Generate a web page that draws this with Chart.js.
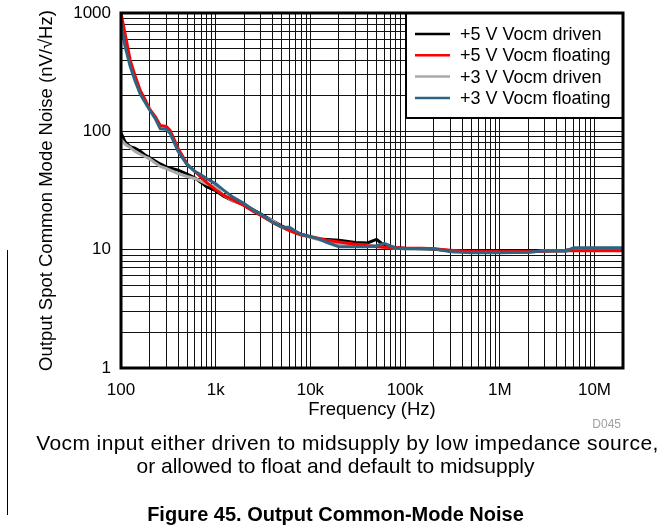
<!DOCTYPE html>
<html>
<head>
<meta charset="utf-8">
<script src="https://cdn.jsdelivr.net/npm/chart.js@4.4.0/dist/chart.umd.min.js"></script>
<style>
  html, body { margin: 0; padding: 0; background: #fff; }
  #wrap { position: relative; width: 671px; height: 529px; overflow: hidden; font-family: 'Liberation Sans', Arial, sans-serif; }
  #chart { position: absolute; left: 0; top: 0; }
  .cap { position: absolute; left: 0; width: 671px; text-align: center; color: #000; white-space: nowrap; }
  #note1 { top: 431px; left: 12px; font-size: 21px; line-height: 24px; letter-spacing: 0.4px; }
  #note2 { top: 454px; font-size: 21px; line-height: 24px; }
  #figtitle { top: 502px; font-size: 20px; line-height: 24px; font-weight: bold; }
  #code { position: absolute; right: 50px; top: 417px; font-size: 12px; line-height: 14px; color: #a0a0a0; }
  #edge { position: absolute; left: 7px; top: 250px; width: 1px; height: 265px; background: #000; }
</style>
</head>
<body>
<div id="wrap">
  <canvas id="chart" width="671" height="529"></canvas>
  <div id="edge"></div>
  <div id="code">D045</div>
  <div class="cap" id="note1">Vocm input either driven to midsupply by low impedance source,</div>
  <div class="cap" id="note2">or allowed to float and default to midsupply</div>
  <div class="cap" id="figtitle">Figure 45. Output Common-Mode Noise</div>
</div>
<script>
// frecuencias (Hz) y ruido (nV/rtHz)
const freq = [100, 110, 125, 140, 160, 180, 200, 230, 260, 300, 330, 400, 500, 600, 700, 800,
  1000, 1200, 1500, 2000, 2500, 3000, 4000, 5000, 6000, 7000, 8000, 10000, 12000, 15000, 20000,
  30000, 40000, 50000, 60000, 80000, 100000, 150000, 200000, 300000, 500000, 1000000, 2000000,
  3000000, 5000000, 6000000, 10000000, 20000000];

const v5Driven = [97, 82, 74, 72, 68, 63, 60, 56, 53, 50, 49, 47, 43.5, 40.5, 37, 34,
  31.5, 28.5, 26, 24, 21.7, 20, 17.5, 15.8, 14.8, 14, 13.5, 12.8, 12.3, 12.2, 12,
  11.5, 11.4, 12.2, 10.9, 10.4, 10.3, 10.2, 10.1, 9.8, 9.6, 9.6, 9.6,
  9.8, 9.9, 10.2, 10.2, 10.2];

const v5Floating = [1000, 680, 400, 300, 220, 185, 155, 133, 112, 110, 102, 72, 53, 46, 41, 37,
  32, 29, 26.5, 23.5, 21, 19.5, 17, 15.5, 14.5, 13.8, 13.3, 12.9, 12.5, 12, 11.6,
  11.1, 10.8, 10.6, 10.5, 10.4, 10.3, 10.3, 10.2, 9.9, 9.6, 9.6, 9.6,
  9.7, 9.8, 9.8, 9.8, 9.8];

const v3Driven = [86, 78, 73, 68, 64, 61, 58.5, 54, 50.5, 48.5, 47, 44, 41.5, 40, 38, 36,
  34, 29, 26, 24, 21.5, 19.5, 17.5, 15.5, 15, 14, 13.3, 12.8, 12.2, 11.7, 11.3,
  11, 10.9, 10.7, 10.5, 10.3, 10.2, 10.2, 10.2, 9.8, 9.5, 9.5, 9.5,
  9.8, 9.8, 10.2, 10.3, 10.3];

const v3Floating = [820, 530, 354, 270, 205, 175, 152, 128, 105, 104, 96, 68, 52, 46, 43, 40,
  36, 32, 28, 24.5, 21.5, 20, 17, 15.5, 15.5, 14.3, 13.5, 12.9, 12.4, 11.5, 10.6,
  10.6, 10.6, 10.8, 11.3, 10.3, 10.2, 10.2, 10.2, 9.6, 9.4, 9.4, 9.5,
  9.8, 9.7, 10.4, 10.4, 10.4];

const seriesLabels = ['+5 V Vocm driven', '+5 V Vocm floating', '+3 V Vocm driven', '+3 V Vocm floating'];
const seriesColors = ['#000000', '#ff0000', '#aaaaaa', '#2f6480'];

const xTickValues = [100, 1000, 10000, 100000, 1000000, 10000000];
const xTickLabels = ['100', '1k', '10k', '100k', '1M', '10M'];
const yTickValues = [1, 10, 100, 1000];
const yTickLabels = ['1', '10', '100', '1000'];

const xMin = 100, xMax = 20000000;
const yMin = 1, yMax = 1000;

const FONT = "'Liberation Sans', Arial, sans-serif";

// lineas de rejilla 1..9 por decada
function decadeGrid(min, max) {
    const out = [];
    for (let e = Math.floor(Math.log10(min)); e < 12; e++) {
        for (let s = 1; s < 10; s++) {
            const v = s * Math.pow(10, e);
            if (v > max * 1.0000001) return out;
            if (v >= min) out.push(v);
        }
    }
    return out;
}

function pickLabel(values, labels) {
    return function(value) {
        const i = values.indexOf(value);
        return i >= 0 ? labels[i] : '';
    };
}

function toPoints(vals) {
    return freq.map((f, i) => ({ x: f, y: vals[i] }));
}

// marco del grafico y leyenda dentro del area
const framePlugin = {
    id: 'frame',
    afterDraw(chart) {
        const ctx = chart.ctx;
        const a = chart.chartArea;
        ctx.save();

        // leyenda
        const bw = 217, bh = 105;
        const bx = a.right - bw, by = a.top;
        ctx.fillStyle = '#fff';
        ctx.fillRect(bx, by, bw, bh);
        ctx.strokeStyle = '#000';
        ctx.lineWidth = 2;
        ctx.strokeRect(bx, by, bw, bh);
        ctx.font = '18px ' + FONT;
        ctx.textBaseline = 'middle';
        ctx.textAlign = 'left';
        chart.data.datasets.forEach((ds, i) => {
            const y = by + 21 + i * 21.3;
            ctx.strokeStyle = ds.borderColor;
            ctx.lineWidth = 2.5;
            ctx.beginPath();
            ctx.moveTo(bx + 9, y);
            ctx.lineTo(bx + 44, y);
            ctx.stroke();
            ctx.fillStyle = '#000';
            ctx.fillText(ds.label, bx + 54, y + 1);
        });

        // borde grueso del area
        ctx.strokeStyle = '#000';
        ctx.lineWidth = 3;
        ctx.strokeRect(a.left, a.top, a.right - a.left, a.bottom - a.top);
        ctx.restore();
    }
};

const datasets = [v5Driven, v5Floating, v3Driven, v3Floating].map((vals, i) => ({
    label: seriesLabels[i],
    data: toPoints(vals),
    borderColor: seriesColors[i],
    borderWidth: 3,
    pointRadius: 0,
    fill: false,
    tension: 0,
    order: [3, 1, 2, 0][i]
}));

new Chart(document.getElementById('chart'), {
    type: 'line',
    data: { datasets: datasets },
    options: {
        responsive: false,
        animation: false,
        layout: { padding: { left: 0, top: 13, right: 48, bottom: 0 } },
        plugins: {
            legend: { display: false },
            tooltip: { enabled: false }
        },
        scales: {
            x: {
                type: 'logarithmic',
                min: xMin,
                max: xMax,
                afterBuildTicks: scale => { scale.ticks = decadeGrid(xMin, xMax).map(v => ({ value: v })); },
                afterFit: scale => { scale.height = 161; scale.paddingLeft = 0; scale.paddingRight = 0; },
                grid: { color: '#111', lineWidth: 1, drawTicks: false },
                border: { display: false },
                ticks: {
                    autoSkip: false,
                    maxRotation: 0,
                    minRotation: 0,
                    padding: 12,
                    color: '#000',
                    font: { family: FONT, size: 17 },
                    callback: pickLabel(xTickValues, xTickLabels)
                },
                title: {
                    display: true,
                    text: 'Frequency (Hz)',
                    color: '#000',
                    font: { family: FONT, size: 18.5 },
                    padding: { top: 0, bottom: 108 }
                }
            },
            y: {
                type: 'logarithmic',
                min: yMin,
                max: yMax,
                afterBuildTicks: scale => { scale.ticks = decadeGrid(yMin, yMax).map(v => ({ value: v })); },
                afterFit: scale => { scale.width = 121; scale.paddingTop = 0; scale.paddingBottom = 0; },
                grid: { color: '#111', lineWidth: 1, drawTicks: false },
                border: { display: false },
                ticks: {
                    autoSkip: false,
                    padding: 10,
                    color: '#000',
                    font: { family: FONT, size: 17 },
                    callback: pickLabel(yTickValues, yTickLabels)
                },
                title: {
                    display: true,
                    text: 'Output Spot Common Mode Noise (nV/\u221AHz)',
                    color: '#000',
                    font: { family: FONT, size: 18.5 },
                    padding: { top: 36, bottom: 0 }
                }
            }
        }
    },
    plugins: [framePlugin]
});
</script>
</body>
</html>
